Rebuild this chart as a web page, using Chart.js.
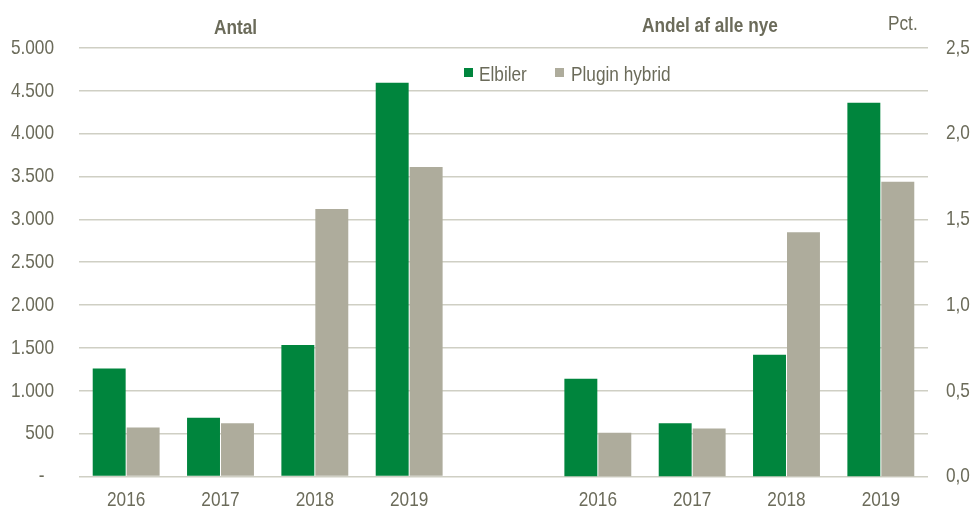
<!DOCTYPE html>
<html>
<head>
<meta charset="utf-8">
<script src="https://cdn.jsdelivr.net/npm/chart.js@4.4.1/dist/chart.umd.min.js"></script>
<style>
  html, body { margin: 0; padding: 0; background: #fff; }
  #wrap { position: relative; width: 974px; height: 514px; overflow: hidden; }
  canvas { position: absolute; left: 0; top: 0; }
  .t { position: absolute; font-family: 'Liberation Sans', Arial, sans-serif; color: #6b6b5a; white-space: nowrap; line-height: 1; font-size: 21px; transform: scaleX(0.82); transform-origin: 0 0; }
  .b { font-weight: bold; }
  .sw { position: absolute; width: 9px; height: 9px; }
</style>
</head>
<body>
<div id="wrap">
  <canvas id="c" width="974" height="514"></canvas>
  <div class="t b" style="left:214px; top:16px;">Antal</div>
  <div class="t b" style="left:642px; top:14px;">Andel af alle nye</div>
  <div class="t" style="left:888px; top:12px;">Pct.</div>
  <span class="sw" style="left:464px; top:68px; background:#00853d"></span>
  <div class="t" style="left:479px; top:63px;">Elbiler</div>
  <span class="sw" style="left:555px; top:68px; background:#aeac9c"></span>
  <div class="t" style="left:571px; top:63px;">Plugin hybrid</div>
</div>
<script>
// Categories: two panels of years with an empty separator slot
const yearsLeft = ['2016', '2017', '2018', '2019'];
const yearsRight = ['2016', '2017', '2018', '2019'];
const categories = [...yearsLeft, '', ...yearsRight];

// Antal (count)
const antalElbiler = [1260, 685, 1535, 4595];
const antalPlugin = [570, 620, 3120, 3610];
// Andel af alle nye (pct.)
const andelElbiler = [0.57, 0.31, 0.71, 2.18];
const andelPlugin = [0.255, 0.28, 1.425, 1.72];

const leftTicks = [0, 500, 1000, 1500, 2000, 2500, 3000, 3500, 4000, 4500, 5000];
const rightTicks = [0, 0.5, 1.0, 1.5, 2.0, 2.5];

const pad = (arr, before, after) => [...Array(before).fill(null), ...arr, ...Array(after).fill(null)];

const GREEN = '#00853d';
const GRAY = '#aeac9c';
const TXT = '#6b6b5a';
const FONT = "'Liberation Sans', Arial, sans-serif";
const SX = 0.82; // horizontal text compression to mimic the narrow typeface

function fmtThousands(v) {
  if (v === 0) return '-  ';
  return String(Math.round(v)).replace(/\B(?=(\d{3})+(?!\d))/g, '.');
}

const canvas = document.getElementById('c');
const ctx = canvas.getContext('2d');
const origFillText = ctx.fillText;
ctx.fillText = function (text, x, y, maxWidth) {
  this.save();
  this.translate(x, y);
  this.scale(SX, 1);
  if (maxWidth === undefined) origFillText.call(this, text, 0, 0);
  else origFillText.call(this, text, 0, 0, maxWidth / SX);
  this.restore();
};

new Chart(ctx, {
  type: 'bar',
  data: {
    labels: categories,
    datasets: [
      { label: 'Elbiler', data: pad(antalElbiler, 0, 5), yAxisID: 'y', stack: 'el', backgroundColor: GREEN },
      { label: 'Plugin hybrid', data: pad(antalPlugin, 0, 5), yAxisID: 'y', stack: 'ph', backgroundColor: GRAY },
      { label: 'Elbiler (andel)', data: pad(andelElbiler, 5, 0), yAxisID: 'y2', stack: 'el', backgroundColor: GREEN },
      { label: 'Plugin hybrid (andel)', data: pad(andelPlugin, 5, 0), yAxisID: 'y2', stack: 'ph', backgroundColor: GRAY }
    ]
  },
  options: {
    responsive: false,
    animation: false,
    layout: { padding: { top: 48, right: 0, left: 0, bottom: 0 } },
    datasets: { bar: { categoryPercentage: 0.72, barPercentage: 0.97, borderWidth: 0 } },
    plugins: { legend: { display: false }, tooltip: { enabled: false } },
    scales: {
      x: {
        grid: { display: false, drawTicks: false },
        border: { display: false },
        ticks: { color: TXT, font: { family: FONT, size: 21 }, padding: 11, maxRotation: 0, autoSkip: false },
        afterFit: (s) => { s.height = 33; }
      },
      y: {
        position: 'left',
        min: 0, max: 5000,
        afterBuildTicks: (s) => { s.ticks = leftTicks.map(v => ({ value: v })); },
        grid: { color: '#cfcfc4', lineWidth: 1.5, drawTicks: false },
        border: { display: false },
        ticks: { color: TXT, font: { family: FONT, size: 21 }, padding: 25, callback: (v) => fmtThousands(v) },
        afterFit: (s) => { s.width = 79; }
      },
      y2: {
        position: 'right',
        min: 0, max: 2.5,
        afterBuildTicks: (s) => { s.ticks = rightTicks.map(v => ({ value: v })); },
        grid: { display: false, drawTicks: false },
        border: { display: false },
        ticks: { color: TXT, font: { family: FONT, size: 21 }, padding: 18, callback: (v) => v.toFixed(1).replace('.', ',') },
        afterFit: (s) => { s.width = 46; }
      }
    }
  }
});
</script>
</body>
</html>
